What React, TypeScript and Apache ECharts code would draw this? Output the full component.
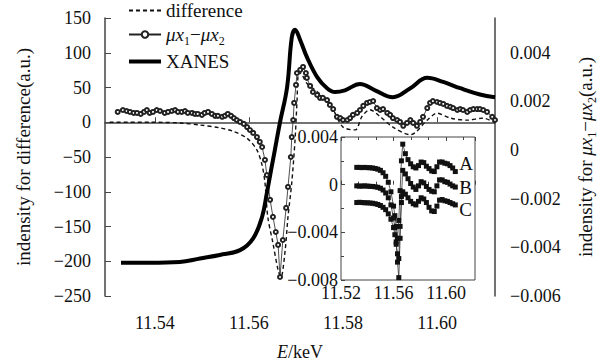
import React, { useEffect, useRef } from 'react';
import * as echarts from 'echarts';

// ---------- main plot: XANES (left axis) ----------
const xanesE = [11.5328, 11.5389, 11.5453, 11.5496, 11.5538, 11.5581, 11.5609, 11.5628, 11.5638, 11.5647, 11.5655, 11.5666, 11.5681, 11.5691, 11.5698, 11.5709, 11.5723, 11.5745, 11.5766, 11.5783, 11.5804, 11.5836, 11.5868, 11.5906, 11.5943, 11.5979, 11.6013, 11.6049, 11.6091, 11.6123];
const xanesI = [-202, -202, -201, -196, -191, -184, -167, -136, -102, -69, -40, 0, 50, 122, 133, 118, 94, 65, 49, 43.5, 46, 55, 46, 36, 49, 64, 58, 49, 40, 36];

// ---------- main plot: difference (left axis) ----------
const diffE = [11.5304, 11.5389, 11.5453, 11.5496, 11.5538, 11.5566, 11.5596, 11.5617, 11.5628, 11.5634, 11.564, 11.5651, 11.5662, 11.5668, 11.5677, 11.5683, 11.5691, 11.5698, 11.5702, 11.5706, 11.5713, 11.5723, 11.5745, 11.5766, 11.5779, 11.58, 11.5826, 11.584, 11.5857, 11.5879, 11.5906, 11.5943, 11.5979, 11.6, 11.6028, 11.6064, 11.6098, 11.6123];
const diffI = [0, 0, -1, -4, -8, -13, -23, -40, -62, -87, -136, -174, -213, -223, -184, -136, -87, -25, 28, 72, 68, 56, 44, 32, 18, -7, -11, 8, 18, 8, -7, -18, 3, 13, 6, 3, 6, -1];

// ---------- main plot: mu x1 - mu x2 (right axis) ----------
const muE = [11.5321, 11.5332, 11.534, 11.5347, 11.5355, 11.5362, 11.537, 11.5377, 11.5383, 11.5389, 11.5396, 11.5404, 11.5411, 11.5421, 11.5428, 11.5436, 11.5443, 11.5449, 11.5457, 11.5464, 11.547, 11.5479, 11.5485, 11.5491, 11.55, 11.5506, 11.5513, 11.5521, 11.5528, 11.5534, 11.5543, 11.5549, 11.5555, 11.5562, 11.5568, 11.5574, 11.5581, 11.5589, 11.5596, 11.5602, 11.5609, 11.5617, 11.5623, 11.5628, 11.5634, 11.5638, 11.5645, 11.5651, 11.5657, 11.5662, 11.5666, 11.5672, 11.5679, 11.5683, 11.5689, 11.5691, 11.5694, 11.5696, 11.57, 11.5702, 11.5709, 11.5715, 11.5721, 11.5723, 11.573, 11.5736, 11.5745, 11.5751, 11.5757, 11.5766, 11.5772, 11.5779, 11.5787, 11.5794, 11.58, 11.5809, 11.5815, 11.5821, 11.583, 11.5836, 11.5843, 11.5851, 11.5857, 11.5864, 11.5872, 11.5879, 11.5885, 11.5894, 11.59, 11.5906, 11.5915, 11.5921, 11.5928, 11.5936, 11.5943, 11.5949, 11.5957, 11.5964, 11.597, 11.5979, 11.5985, 11.5991, 11.6, 11.6006, 11.6013, 11.6021, 11.6028, 11.6034, 11.6043, 11.6049, 11.6055, 11.6064, 11.607, 11.6077, 11.6085, 11.6091, 11.6098, 11.6106, 11.6117, 11.6123];
const muV = [0.00156, 0.00164, 0.0016, 0.00156, 0.00152, 0.00152, 0.00148, 0.00156, 0.00164, 0.00152, 0.00156, 0.00164, 0.0016, 0.00152, 0.00156, 0.0016, 0.00164, 0.00156, 0.00156, 0.0016, 0.00152, 0.00152, 0.00148, 0.00148, 0.00144, 0.00152, 0.00156, 0.00148, 0.0014, 0.0014, 0.00136, 0.0014, 0.00148, 0.0014, 0.00131, 0.00123, 0.00115, 0.00107, 0.00094, 0.00082, 0.0007, 0.00053, 0.00033, 0.00012, -0.00041, -0.00103, -0.00205, -0.00275, -0.00337, -0.0039, -0.00522, -0.0037, -0.00238, -0.00152, -0.00029, 0.00053, 0.00123, 0.00193, 0.00267, 0.00316, 0.00329, 0.00341, 0.00316, 0.00296, 0.00263, 0.00238, 0.00226, 0.00214, 0.00214, 0.00205, 0.00185, 0.00168, 0.00136, 0.00131, 0.00123, 0.00123, 0.00131, 0.00144, 0.00152, 0.00164, 0.00181, 0.00193, 0.00197, 0.00201, 0.00172, 0.00164, 0.00168, 0.00152, 0.00144, 0.00131, 0.00123, 0.00115, 0.00099, 0.00111, 0.00123, 0.00111, 0.00099, 0.00115, 0.00136, 0.00172, 0.00193, 0.00201, 0.00197, 0.00193, 0.00189, 0.00181, 0.00177, 0.00172, 0.00164, 0.00168, 0.00164, 0.00156, 0.00164, 0.00168, 0.00168, 0.00168, 0.00164, 0.00156, 0.00136, 0.00123];

// ---------- inset: A, B, C ----------
const insetE = [11.532, 11.534, 11.536, 11.538, 11.54, 11.542, 11.544, 11.546, 11.548, 11.55, 11.552, 11.554, 11.556, 11.558, 11.56, 11.561, 11.562, 11.563, 11.564, 11.565, 11.566, 11.567, 11.569, 11.571, 11.573, 11.575, 11.577, 11.579, 11.581, 11.583, 11.585, 11.587, 11.589, 11.591, 11.593, 11.595, 11.597, 11.599, 11.601, 11.603, 11.605, 11.607];
const insetA = [0.00145, 0.00145, 0.00143, 0.00145, 0.00143, 0.00142, 0.0014, 0.00136, 0.0013, 0.0012, 0.001, 0.0007, 0.0002, -0.0006, -0.0018, -0.0026, -0.0035, -0.0045, -0.003, -0.0005, 0.002, 0.0034, 0.0026, 0.0021, 0.00175, 0.0015, 0.0014, 0.0016, 0.0019, 0.00185, 0.00155, 0.00135, 0.00115, 0.0011, 0.0015, 0.0019, 0.0019, 0.0018, 0.00175, 0.0016, 0.0014, 0.0011];
const insetB = [-0.0001, -0.00012, -0.00012, -0.0001, -0.00012, -0.00014, -0.00015, -0.00018, -0.00022, -0.0003, -0.00045, -0.0007, -0.0011, -0.0017, -0.0028, -0.0036, -0.0048, -0.0065, -0.0078, -0.0045, -0.001, 0.0012, 0.0009, 0.0005, 0.0001, -0.0002, -0.0004, -0.0001, 0.00025, 0.00015, -0.00015, -0.0004, -0.00055, -0.0006, -0.0001, 0.0004, 0.0004, 0.00025, 0.0002, 0.00005, -0.0001, -0.0002];
const insetC = [-0.0015, -0.00148, -0.0015, -0.00152, -0.00152, -0.00154, -0.00156, -0.0016, -0.00166, -0.00175, -0.0019, -0.0021, -0.00245, -0.0029, -0.0036, -0.0042, -0.005, -0.0058, -0.0062, -0.0035, -0.0015, -0.0006, -0.0008, -0.0011, -0.0014, -0.0016, -0.0017, -0.0014, -0.0011, -0.0012, -0.0015, -0.0019, -0.0022, -0.00225, -0.0018, -0.0013, -0.00125, -0.00135, -0.0014, -0.0015, -0.0016, -0.0017];
const insetNames = ['A', 'B', 'C'];

const FONT = 'Liberation Serif';
const INK = '#111';
const AXIS = '#444';

const zip = (xs: number[], ys: number[]) => xs.map((x, i) => [x, ys[i]]);
const minus = (s: string) => s.replace('-', '\u2212');

const txt = (size: number) => ({ fontFamily: FONT, fontSize: size, color: INK, fontWeight: 'normal' as const });

const richStyles = (size: number, extra: number) => ({
  n: { ...txt(size), lineHeight: size + extra },
  i: { ...txt(size), fontStyle: 'italic', lineHeight: size + extra },
  s: { ...txt(Math.round(size * 0.65)), verticalAlign: 'bottom', lineHeight: Math.round(size * 0.65) },
});

export default function App() {
  const ref = useRef<HTMLDivElement>(null);
  useEffect(() => {
    if (!ref.current) return;
    const chart = echarts.init(ref.current, undefined, { renderer: 'svg' });
    const insetData = [insetA, insetB, insetC];
    const labelOffsets = [[0, -8], [0, 0], [0, 5]];
    const option: any = {
      animation: false,
      backgroundColor: '#fff',
      textStyle: txt(18),
      legend: {
        orient: 'vertical',
        left: 122,
        top: -4,
        itemGap: 5,
        itemWidth: 32,
        itemHeight: 8,
        textStyle: { ...txt(19), rich: richStyles(19, 6) },
        formatter: (name: string) => (name === 'mu' ? '{i|μx}{s|1}{n|\u2212}{i|μx}{s|2}' : '{n|' + name + '}'),
        data: [
          { name: 'difference', itemStyle: { opacity: 0 } },
          { name: 'mu' },
          { name: 'XANES', lineStyle: { width: 4 }, itemStyle: { opacity: 0 } },
        ],
      },
      grid: [
        { left: 105, right: 105, top: 18, bottom: 68, outerBoundsMode: 'none', containLabel: false },
        { left: 341, top: 137, width: 134, height: 143, show: true, borderColor: AXIS, borderWidth: 1, backgroundColor: 'transparent', z: 5, outerBoundsMode: 'none', containLabel: false },
      ],
      xAxis: [
        {
          type: 'value', gridIndex: 0, min: 11.5294, max: 11.6123, splitNumber: 4, offset: 8,
          axisLine: { lineStyle: { color: AXIS, width: 1.5 } },
          axisTick: { inside: true, length: 5, lineStyle: { color: AXIS } },
          axisLabel: { ...txt(18), margin: 10, showMinLabel: false, showMaxLabel: false, formatter: (v: number) => v.toFixed(2) },
          splitLine: { show: false },
          name: '{i|E}{n|/keV}', nameLocation: 'middle', nameGap: 38,
          nameTextStyle: { ...txt(18), rich: richStyles(18, 2) },
        },
        {
          type: 'value', gridIndex: 1, min: 11.52, max: 11.622, interval: 0.04,
          axisLine: { show: false },
          axisTick: { inside: true, length: 4, lineStyle: { color: AXIS } },
          minorTick: { show: true, splitNumber: 3, length: 3, lineStyle: { color: AXIS } },
          axisLabel: { ...txt(18), margin: 4, showMaxLabel: false, formatter: (v: number) => v.toFixed(2) },
          splitLine: { show: false },
        },
        {
          type: 'value', gridIndex: 1, position: 'top', min: 11.52, max: 11.622, interval: 0.04,
          axisLine: { show: false },
          axisTick: { inside: true, length: 4, lineStyle: { color: AXIS } },
          minorTick: { show: true, splitNumber: 3, length: 3, lineStyle: { color: AXIS } },
          axisLabel: { show: false },
          splitLine: { show: false },
        },
      ],
      yAxis: [
        {
          type: 'value', gridIndex: 0, position: 'left', min: -250, max: 150, interval: 50,
          axisLine: { show: true, lineStyle: { color: AXIS, width: 1.5 } },
          axisTick: { show: true, inside: true, length: 6, lineStyle: { color: AXIS } },
          axisLabel: { ...txt(18), margin: 14, formatter: (v: number) => minus(String(v)) },
          splitLine: { show: false },
          name: 'indensity for difference(a.u.)', nameLocation: 'middle', nameGap: 72, nameRotate: 90,
          nameTextStyle: txt(19),
        },
        {
          type: 'value', gridIndex: 0, position: 'right', min: -0.006, max: 0.00542, interval: 0.002,
          axisLine: { show: true, lineStyle: { color: AXIS, width: 1.5 } },
          axisTick: { show: false },
          axisLabel: { ...txt(18), margin: 15, showMaxLabel: false, formatter: (v: number) => (Math.abs(v) < 1e-9 ? '0' : minus(v.toFixed(3))) },
          splitLine: { show: false },
          name: '{n|indensity for }{i|μx}{s|1}{n|\u2212}{i|μx}{s|2}{n|(a.u.)}', nameLocation: 'middle', nameGap: 78, nameRotate: 90,
          nameTextStyle: { ...txt(19), rich: richStyles(19, 6) },
        },
        {
          type: 'value', gridIndex: 1, min: -0.008, max: 0.004, interval: 0.004,
          axisLine: { show: false },
          axisTick: { inside: true, length: 4, lineStyle: { color: AXIS } },
          minorTick: { show: true, splitNumber: 2, length: 3, lineStyle: { color: AXIS } },
          axisLabel: { ...txt(18), margin: 3, formatter: (v: number) => (Math.abs(v) < 1e-9 ? '0' : minus(v.toFixed(3))) },
          splitLine: { show: false },
        },
      ],
      series: [
        {
          name: 'difference', type: 'line', xAxisIndex: 0, yAxisIndex: 0, data: zip(diffE, diffI),
          symbol: 'none', smooth: 0.3, color: '#111',
          lineStyle: { color: '#111', width: 1.4, type: [4, 3] },
        },
        {
          name: 'mu', type: 'line', xAxisIndex: 0, yAxisIndex: 1, data: zip(muE, muV),
          symbol: 'emptyCircle', symbolSize: 4, showSymbol: true, showAllSymbol: true, color: '#222',
          lineStyle: { color: '#222', width: 0.8 },
          itemStyle: { color: '#222', borderColor: '#222', borderWidth: 0.7 },
        },
        {
          name: 'XANES', type: 'line', xAxisIndex: 0, yAxisIndex: 0, data: zip(xanesE, xanesI),
          symbol: 'none', smooth: 0.4, color: '#000',
          lineStyle: { color: '#000', width: 4 },
        },
        ...insetData.map((vals, k) => ({
          name: insetNames[k], type: 'line', xAxisIndex: 1, yAxisIndex: 2, data: zip(insetE, vals),
          symbol: 'rect', symbolSize: 5, showSymbol: true, showAllSymbol: true, color: '#111', z: 6,
          lineStyle: { color: '#333', width: 0.8 },
          itemStyle: { color: '#111' },
          endLabel: { show: true, formatter: insetNames[k], ...txt(19), distance: 4, offset: labelOffsets[k] },
        })),
      ],
    };
    chart.setOption(option);
    return () => chart.dispose();
  }, []);
  return <div ref={ref} style={{ width: 600, height: 364, position: 'absolute', left: 0, top: 0 }} />;
}
